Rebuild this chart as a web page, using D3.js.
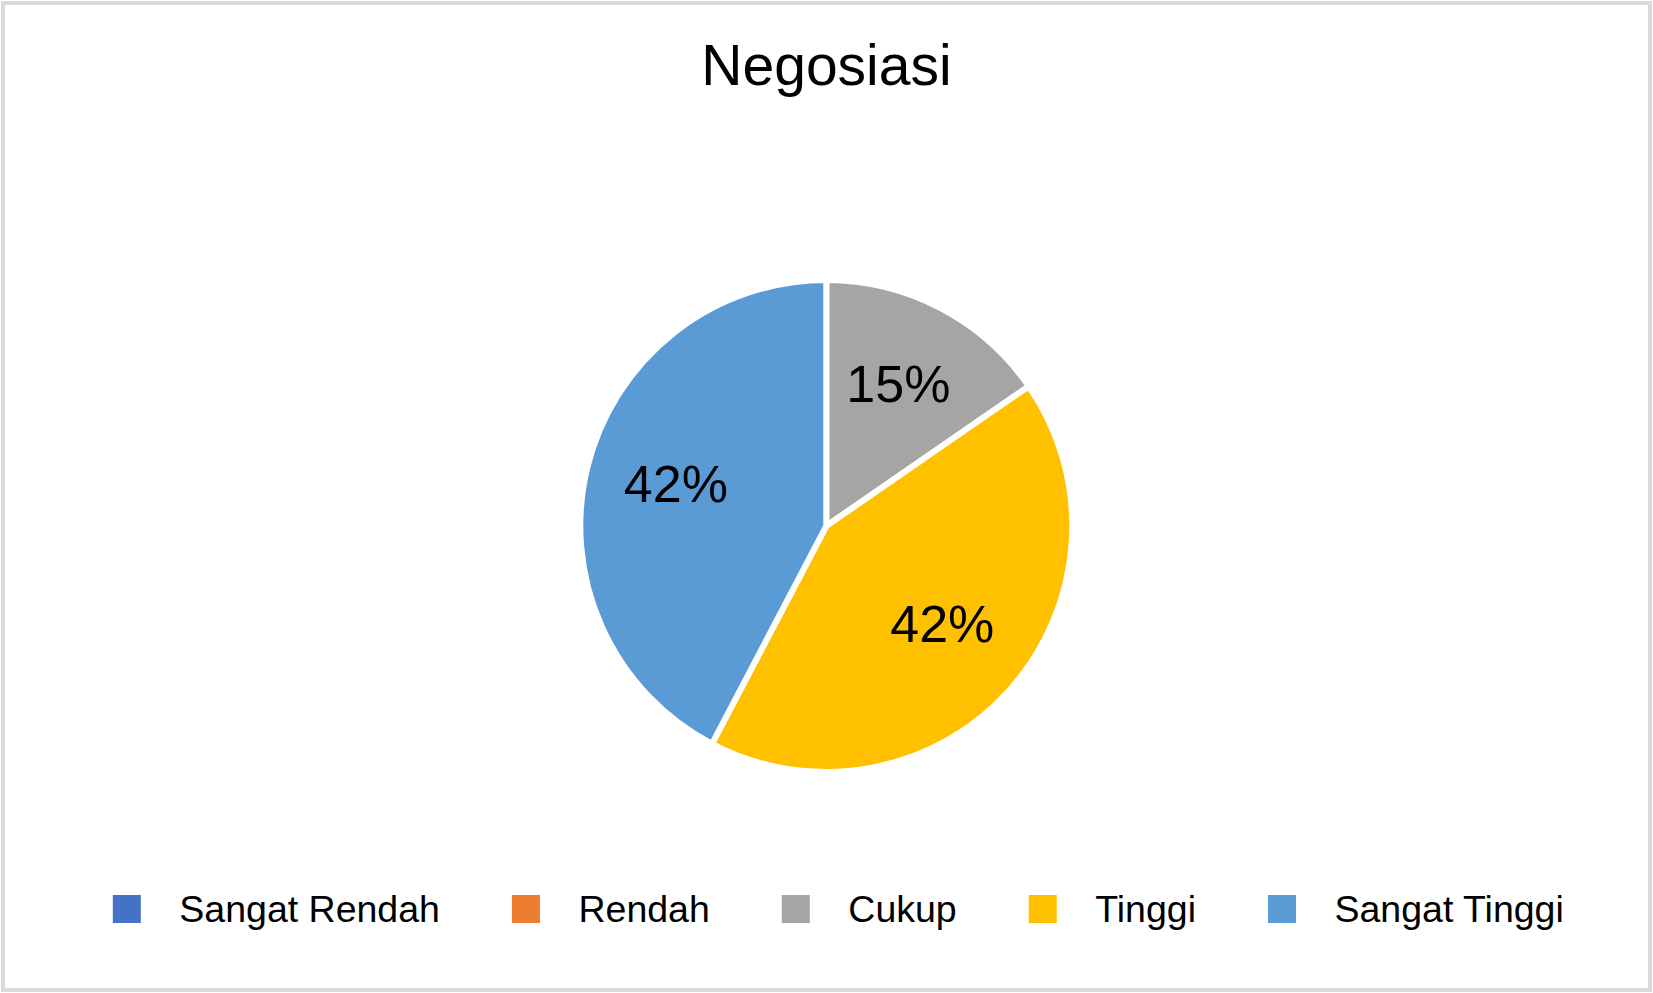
<!DOCTYPE html>
<html>
<head>
<meta charset="utf-8">
<script src="https://cdn.jsdelivr.net/npm/d3@7"></script>
<style>
  body { margin: 0; background: #fff; }
  text { font-family: "Liberation Sans", Arial, sans-serif; fill: #000; }
</style>
</head>
<body>
<script>
const categories = ['Sangat Rendah', 'Rendah', 'Cukup', 'Tinggi', 'Sangat Tinggi']
const counts = [0, 0, 4, 11, 11]
const colors = ['#4472C4', '#ED7D31', '#A5A5A5', '#FFC000', '#5B9BD5']
const title = 'Negosiasi'

const width = 1653
const height = 993

const svg = d3.select('body').append('svg')
  .attr('width', width)
  .attr('height', height)

// chart frame
svg.append('rect')
  .attr('x', 3).attr('y', 3)
  .attr('width', width - 6).attr('height', height - 6)
  .attr('fill', '#fff')
  .attr('stroke', '#d9d9d9')
  .attr('stroke-width', 4)

svg.append('text')
  .attr('x', 826.5)
  .attr('y', 85)
  .attr('text-anchor', 'middle')
  .style('font-size', '57px')
  .text(title)

const data = categories.map((c, i) => ({ name: c, value: counts[i], color: colors[i] }))
const total = d3.sum(counts)

const radius = 246
const pie = d3.pie().sort(null).value(d => d.value)
const arc = d3.arc().innerRadius(0).outerRadius(radius)
const labelArc = d3.arc().innerRadius(radius * 0.63).outerRadius(radius * 0.63)

const g = svg.append('g')
  .attr('transform', 'translate(826.3,526)')

const slices = pie(data).filter(d => d.data.value > 0)

g.selectAll('path')
  .data(slices)
  .enter().append('path')
    .attr('d', arc)
    .attr('fill', d => d.data.color)
    .attr('stroke', '#fff')
    .attr('stroke-width', 6)
    .attr('stroke-linejoin', 'round')

g.selectAll('.label')
  .data(slices)
  .enter().append('text')
    .attr('class', 'label')
    .attr('transform', d => 'translate(' + labelArc.centroid(d) + ')')
    .attr('text-anchor', 'middle')
    .attr('dy', '0.25em')
    .style('font-size', '52px')
    .text(d => Math.round(d.data.value / total * 100) + '%')

// legend, laid out left to right from measured text widths
const legend = svg.append('g').attr('class', 'legend')
let lx = 112.8
data.forEach(d => {
  const item = legend.append('g').attr('transform', 'translate(' + lx + ',0)')
  item.append('rect')
    .attr('x', 0).attr('y', 895)
    .attr('width', 28).attr('height', 28)
    .attr('fill', d.color)
  const t = item.append('text')
    .attr('x', 66.5)
    .attr('y', 922)
    .style('font-size', '37.5px')
    .text(d.name)
  lx += 66.5 + t.node().getComputedTextLength() + 72
})
</script>
</body>
</html>
